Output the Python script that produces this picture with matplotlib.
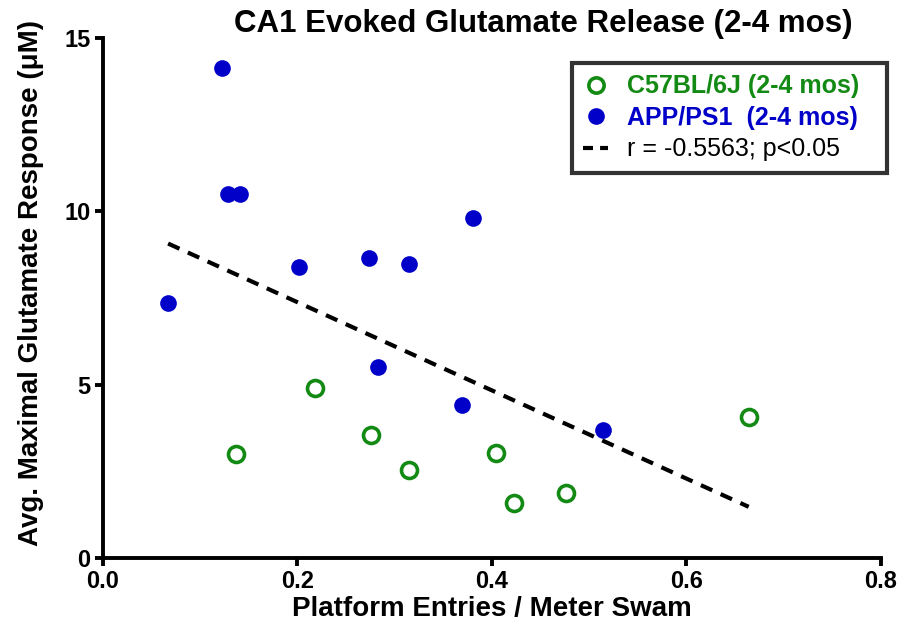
import numpy as np
import matplotlib
matplotlib.use('Agg')
import matplotlib.pyplot as plt
from matplotlib.lines import Line2D

plt.rcParams['font.family'] = ['Liberation Sans', 'DejaVu Sans']
plt.rcParams['font.weight'] = 'bold'

# C57BL/6J (2-4 mos) - open green circles
wt_x = [0.137, 0.218, 0.276, 0.315, 0.404, 0.423, 0.476, 0.664]
wt_y = [3.00, 4.90, 3.54, 2.54, 3.03, 1.59, 1.87, 4.06]

# APP/PS1 (2-4 mos) - filled blue circles
app_x = [0.067, 0.122, 0.129, 0.141, 0.202, 0.274, 0.283, 0.315, 0.369, 0.381, 0.514]
app_y = [7.35, 14.12, 10.49, 10.49, 8.39, 8.65, 5.50, 8.47, 4.41, 9.80, 3.69]

x_ticks = [0.0, 0.2, 0.4, 0.6, 0.8]
x_tick_labels = ['0.0', '0.2', '0.4', '0.6', '0.8']
y_ticks = [0, 5, 10, 15]

green = '#138a13'
blue = '#0000c8'
dash = (0, (3.0, 2.2))

fig = plt.figure(figsize=(9.11, 6.28), dpi=100)
ax = fig.add_axes([0.113, 0.1115, 0.854, 0.828])

# regression over all animals
all_x = np.array(wt_x + app_x)
all_y = np.array(wt_y + app_y)
slope, intercept = np.polyfit(all_x, all_y, 1)
fit_x = np.array([all_x.min(), all_x.max()])
ax.plot(fit_x, slope * fit_x + intercept, color='black', lw=3, ls=dash, zorder=2)

ax.plot(wt_x, wt_y, 'o', ms=11.5, mfc='white', mec=green, mew=2.6, ls='none', zorder=3)
ax.plot(app_x, app_y, 'o', ms=12, mfc=blue, mec=blue, mew=0, ls='none', zorder=3)

ax.set_xlim(0, 0.8)
ax.set_ylim(0, 15)
ax.set_xticks(x_ticks)
ax.set_xticklabels(x_tick_labels)
ax.set_yticks(y_ticks)

for side in ['top', 'right']:
    ax.spines[side].set_visible(False)
for side in ['left', 'bottom']:
    ax.spines[side].set_linewidth(2.8)
ax.tick_params(direction='out', length=6, width=2.8, labelsize=17, pad=3)

fig.text(543 / 911, 1 - 24 / 628, 'CA1 Evoked Glutamate Release (2-4 mos)',
         fontsize=22.5, fontweight='bold', ha='center', va='center')
ax.set_xlabel('Platform Entries / Meter Swam', fontsize=20, fontweight='bold', labelpad=2)
ax.set_ylabel('Avg. Maximal Glutamate Response (\u03bcM)', fontsize=20, fontweight='bold')
ax.yaxis.set_label_coords(-0.076, 0.529)

handles = [
    Line2D([], [], marker='o', ls='none', ms=11, mfc='white', mec=green, mew=2.6),
    Line2D([], [], marker='o', ls='none', ms=12, mfc=blue, mec=blue, mew=0),
    Line2D([], [], color='black', lw=3, ls=(0, (2.4, 1.7))),
]
labels = ['C57BL/6J (2-4 mos)', 'APP/PS1  (2-4 mos)', 'r = -0.5563; p<0.05']
leg = ax.legend(handles, labels, loc='upper left', mode='expand',
                bbox_to_anchor=(572 / 911, 1 - 170 / 628, 315 / 911, 107 / 628),
                bbox_transform=fig.transFigure, borderaxespad=0,
                fontsize=18, frameon=True, fancybox=False, handlelength=1.0,
                handletextpad=0.75, borderpad=0.45, labelspacing=0.3)
leg.get_frame().set_edgecolor('black')
leg.get_frame().set_linewidth(3)
texts = leg.get_texts()
texts[0].set_color(green)
texts[1].set_color(blue)
texts[2].set_fontweight('normal')

fig.savefig('out.png', dpi=100)
